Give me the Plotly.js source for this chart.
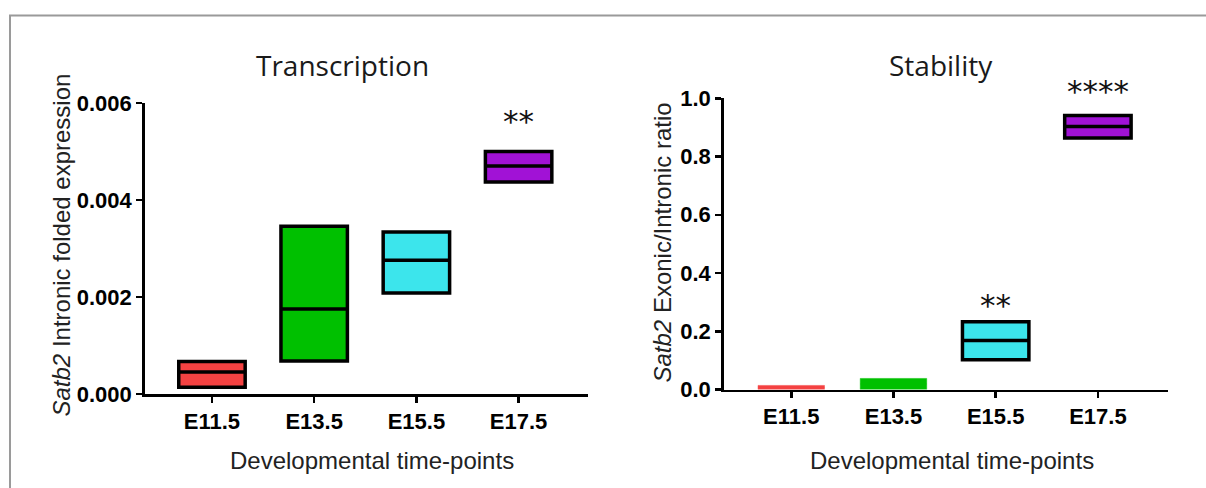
<!DOCTYPE html>
<html>
<head>
<meta charset="utf-8">
<script src="https://cdn.plot.ly/plotly-3.0.1.min.js"></script>
<style>
  html, body { margin: 0; padding: 0; background: #fff; overflow: hidden; }
  #chart { width: 1206px; height: 488px; }
</style>
</head>
<body>
<div id="chart"></div>
<script>
// ---- Data ----
const categories = ['E11.5', 'E13.5', 'E15.5', 'E17.5'];
const colors = ['#F44242', '#00C000', '#3CE5EC', '#A112D6'];

// Transcription: Satb2 intronic folded expression (floating bars: min / line / max)
const transLow = [0.00014, 0.00068, 0.00208, 0.00437];
const transMid = [0.000455, 0.00175, 0.00276, 0.00470];
const transHigh = [0.00067, 0.00346, 0.00334, 0.00500];
const transStars = ['', '', '', '**'];
const transStarY = [null, null, null, 0.00571];
const transMax = 0.006;

// Stability: Satb2 exonic/intronic ratio
const stabLow = [0.0, 0.0, 0.102, 0.864];
const stabMid = [0.007, 0.019, 0.168, 0.903];
const stabHigh = [0.014, 0.038, 0.233, 0.941];
const stabStars = ['', '', '**', '****'];
const stabStarY = [null, null, 0.3027, 1.0398];
const stabOutlined = [false, false, true, true];
const stabMax = 1.0;

const W = 1206, H = 488;
const px = v => v / W;
const py = v => 1 - v / H;

const traces = [];
function addBoxes(low, mid, high, xa, ya, outlined) {
  categories.forEach((c, i) => {
    const ol = outlined ? outlined[i] : true;
    traces.push({
      type: 'box',
      x: [c],
      q1: [low[i]], median: [mid[i]], q3: [high[i]],
      lowerfence: [low[i]], upperfence: [high[i]],
      boxpoints: false,
      width: 0.65,
      fillcolor: colors[i],
      line: { color: ol ? '#000000' : colors[i], width: ol ? 3.5 : 0.5 },
      whiskerwidth: 0,
      xaxis: xa, yaxis: ya,
      showlegend: false,
      hoverinfo: 'skip'
    });
  });
}
addBoxes(transLow, transMid, transHigh, 'x', 'y', null);
addBoxes(stabLow, stabMid, stabHigh, 'x2', 'y2', stabOutlined);

const tickFont = { family: 'Liberation Sans, Arial, sans-serif', size: 22, color: '#000', weight: 'bold' };
const axisCommon = {
  showline: true, linecolor: '#000', linewidth: 2.5,
  ticks: 'outside', ticklen: 6, tickwidth: 2.5, tickcolor: '#000',
  showgrid: false, zeroline: false, tickfont: tickFont, fixedrange: true
};

const annotations = [];
// stars positioned along the category axis, vertically in axis-domain fractions
function addStars(stars, ys, ymax, xr, yr) {
  stars.forEach((s, i) => {
    if (!s) return;
    annotations.push({
      x: categories[i], y: ys[i] / ymax, xref: xr, yref: yr + ' domain',
      text: s, showarrow: false, xanchor: 'center', yanchor: 'middle', yshift: -4,
      font: { family: 'DejaVu Sans, sans-serif', size: 31, color: '#111' }
    });
  });
}
addStars(transStars, transStarY, transMax, 'x', 'y');
addStars(stabStars, stabStarY, stabMax, 'x2', 'y2');

const titleFont = { family: 'Open Sans, sans-serif', size: 28, color: '#1a1a1a' };
const axTitleFont = { family: 'Liberation Sans, Arial, sans-serif', size: 24, color: '#222' };
annotations.push(
  { text: 'Transcription', x: px(342.5), y: py(65), xref: 'paper', yref: 'paper',
    showarrow: false, xanchor: 'center', yanchor: 'middle', font: titleFont },
  { text: 'Stability', x: px(941), y: py(65), xref: 'paper', yref: 'paper',
    showarrow: false, xanchor: 'center', yanchor: 'middle', font: titleFont },
  { text: 'Developmental time-points', x: px(372), y: py(460.5), xref: 'paper', yref: 'paper',
    showarrow: false, xanchor: 'center', yanchor: 'middle', font: axTitleFont },
  { text: 'Developmental time-points', x: px(952), y: py(460.5), xref: 'paper', yref: 'paper',
    showarrow: false, xanchor: 'center', yanchor: 'middle', font: axTitleFont },
  { text: '<i>Satb2</i> Intronic folded expression', x: px(60.5), y: py(245), xref: 'paper', yref: 'paper',
    showarrow: false, xanchor: 'center', yanchor: 'middle', textangle: -90, font: axTitleFont },
  { text: '<i>Satb2</i> Exonic/Intronic ratio', x: px(661.5), y: py(243), xref: 'paper', yref: 'paper',
    showarrow: false, xanchor: 'center', yanchor: 'middle', textangle: -90, font: axTitleFont }
);

const layout = {
  width: W, height: H,
  margin: { l: 0, r: 0, t: 0, b: 0 },
  paper_bgcolor: '#fff', plot_bgcolor: 'rgba(0,0,0,0)',
  showlegend: false,
  boxmode: 'overlay',
  xaxis: Object.assign({}, axisCommon, {
    domain: [px(144.7), px(587.5)], anchor: 'y',
    type: 'category', categoryorder: 'array', categoryarray: categories,
    range: [-0.658, 3.674]
  }),
  yaxis: Object.assign({}, axisCommon, {
    domain: [py(394), py(103)], anchor: 'x',
    range: [0, transMax], tick0: 0, dtick: 0.002, tickformat: '.3f'
  }),
  xaxis2: Object.assign({}, axisCommon, {
    domain: [px(723.7), px(1167.5)], anchor: 'y2',
    type: 'category', categoryorder: 'array', categoryarray: categories,
    range: [-0.661, 3.681]
  }),
  yaxis2: Object.assign({}, axisCommon, {
    domain: [py(389.5), py(98.3)], anchor: 'x2',
    range: [0, stabMax], tick0: 0, dtick: 0.2, tickformat: '.1f'
  }),
  annotations: annotations,
  shapes: [
    { type: 'line', xref: 'paper', yref: 'paper', x0: px(9), x1: 1, y0: py(15.5), y1: py(15.5),
      line: { color: '#9a9a9a', width: 2 } },
    { type: 'line', xref: 'paper', yref: 'paper', x0: px(10), x1: px(10), y0: py(15), y1: 0,
      line: { color: '#9a9a9a', width: 2 } }
  ]
};

Plotly.newPlot('chart', traces, layout, { displayModeBar: false, staticPlot: true });
</script>
</body>
</html>
